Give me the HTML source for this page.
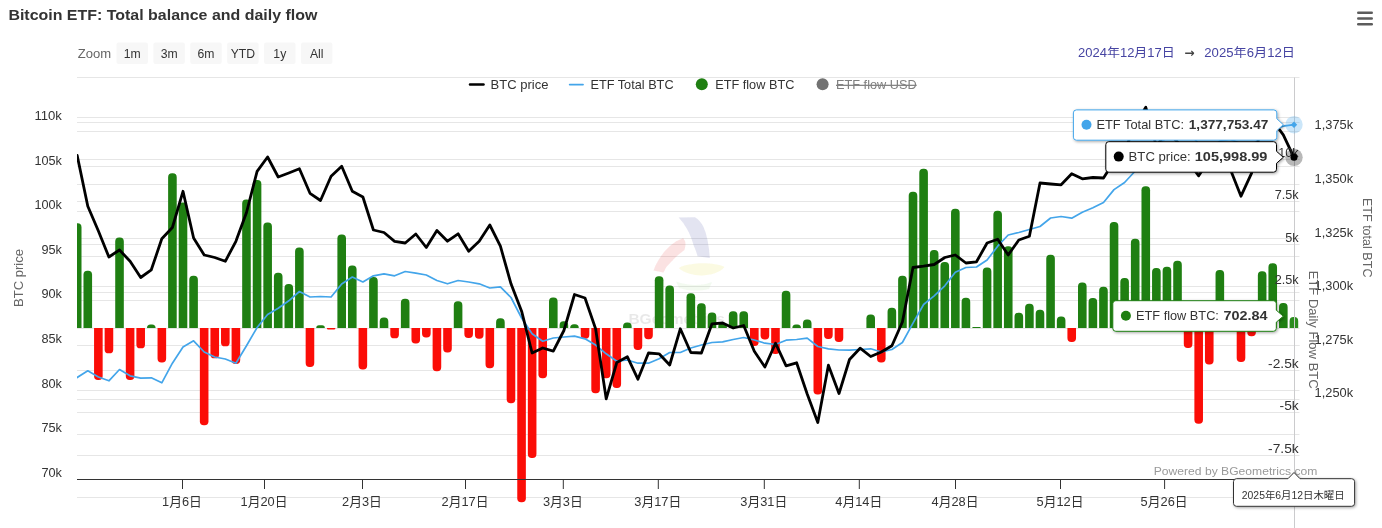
<!DOCTYPE html>
<html lang="ja"><head><meta charset="utf-8"><title>Bitcoin ETF: Total balance and daily flow</title>
<style>html,body{margin:0;padding:0;background:#fff;overflow:hidden}svg{display:block}text{font-family:"Liberation Sans","Noto Sans CJK JP",sans-serif}</style></head><body>
<svg width="1382" height="528" viewBox="0 0 1382 528">
<defs><clipPath id="plot"><rect x="77" y="70" width="1225" height="458"/></clipPath><filter id="sh" x="-10%" y="-30%" width="120%" height="170%"><feDropShadow dx="1" dy="1" stdDeviation="1.8" flood-color="#000" flood-opacity="0.35"/></filter><filter id="bl" x="-10%" y="-10%" width="120%" height="120%"><feGaussianBlur stdDeviation="0.7"/></filter></defs>
<rect width="1382" height="528" fill="#fff"/>
<g>
<path d="M77 77.5H1299.5" stroke="#e6e6e6" stroke-width="1" fill="none"/>
<path d="M77 117.5H1299.5" stroke="#e6e6e6" stroke-width="1" fill="none"/>
<path d="M77 159.5H1299.5" stroke="#e6e6e6" stroke-width="1" fill="none"/>
<path d="M77 201.5H1299.5" stroke="#e6e6e6" stroke-width="1" fill="none"/>
<path d="M77 244.5H1299.5" stroke="#e6e6e6" stroke-width="1" fill="none"/>
<path d="M77 286.5H1299.5" stroke="#e6e6e6" stroke-width="1" fill="none"/>
<path d="M77 328.5H1299.5" stroke="#e6e6e6" stroke-width="1" fill="none"/>
<path d="M77 370.5H1299.5" stroke="#e6e6e6" stroke-width="1" fill="none"/>
<path d="M77 412.5H1299.5" stroke="#e6e6e6" stroke-width="1" fill="none"/>
<path d="M77 455.5H1299.5" stroke="#e6e6e6" stroke-width="1" fill="none"/>
<path d="M77 497.5H1299.5" stroke="#e6e6e6" stroke-width="1" fill="none"/>
<path d="M77 122.5H1299.5" stroke="#e6e6e6" stroke-width="1" fill="none"/>
<path d="M77 166.5H1299.5" stroke="#e6e6e6" stroke-width="1" fill="none"/>
<path d="M77 211.5H1299.5" stroke="#e6e6e6" stroke-width="1" fill="none"/>
<path d="M77 256.5H1299.5" stroke="#e6e6e6" stroke-width="1" fill="none"/>
<path d="M77 300.5H1299.5" stroke="#e6e6e6" stroke-width="1" fill="none"/>
<path d="M77 345.5H1299.5" stroke="#e6e6e6" stroke-width="1" fill="none"/>
<path d="M77 390.5H1299.5" stroke="#e6e6e6" stroke-width="1" fill="none"/>
<path d="M77 434.5H1299.5" stroke="#e6e6e6" stroke-width="1" fill="none"/>
<path d="M77 131.5H1299.5" stroke="#e6e6e6" stroke-width="1" fill="none"/>
<path d="M77 184.5H1299.5" stroke="#e6e6e6" stroke-width="1" fill="none"/>
<path d="M77 238.5H1299.5" stroke="#e6e6e6" stroke-width="1" fill="none"/>
<path d="M77 292.5H1299.5" stroke="#e6e6e6" stroke-width="1" fill="none"/>
<path d="M77 345.5H1299.5" stroke="#e6e6e6" stroke-width="1" fill="none"/>
<path d="M77 399.5H1299.5" stroke="#e6e6e6" stroke-width="1" fill="none"/>
</g>
<g filter="url(#bl)"><path d="M678.7 217.6 L694.9 217.2 Q700.5 220.5 703.5 227 Q708.5 238 709.8 258 L697.6 256.3 Q695.5 249 694 246.4 Q691 236 687 229 Q683 222 678.7 217.6Z" fill="#5a5cae" opacity="0.17"/><path d="M683.2 238.3 Q676 240.5 671 245 Q663 252 658.5 260 Q655 266 653.5 270.6 L663.4 272.4 Q666 266.5 670.6 262.6 Q676 256 684.5 250 Q686 245 685 241Z" fill="#e43c3c" opacity="0.14"/><path d="M678.7 268 C690 262 714 262 724.5 267 C716 277.5 690 278.5 678.7 268Z" fill="#e2dc3c" opacity="0.14"/><path d="M676 281.5 C688 286 702 286 712 282 L709 289 C699 291.5 688 291 679 288Z" fill="#6cc050" opacity="0.08"/></g>
<text x="628.4" y="324" font-size="15.5" font-weight="bold" fill="#000" opacity="0.085">BGeometrics</text>
<g clip-path="url(#plot)">
<path d="M72.90 328V227.20A3.90 3.90 0 0 1 76.80 223.30H77.60A3.90 3.90 0 0 1 81.50 227.20V328Z" fill="#1f7f12"/>
<path d="M83.48 328V274.65A3.90 3.90 0 0 1 87.38 270.75H88.18A3.90 3.90 0 0 1 92.08 274.65V328Z" fill="#1f7f12"/>
<path d="M94.06 328V376.10A3.90 3.90 0 0 0 97.96 380.00H98.76A3.90 3.90 0 0 0 102.66 376.10V328Z" fill="#fb0d07"/>
<path d="M104.64 328V349.40A3.90 3.90 0 0 0 108.54 353.30H109.34A3.90 3.90 0 0 0 113.24 349.40V328Z" fill="#fb0d07"/>
<path d="M115.22 328V241.40A3.90 3.90 0 0 1 119.12 237.50H119.92A3.90 3.90 0 0 1 123.82 241.40V328Z" fill="#1f7f12"/>
<path d="M125.80 328V376.10A3.90 3.90 0 0 0 129.70 380.00H130.50A3.90 3.90 0 0 0 134.40 376.10V328Z" fill="#fb0d07"/>
<path d="M136.38 328V344.40A3.90 3.90 0 0 0 140.28 348.30H141.08A3.90 3.90 0 0 0 144.98 344.40V328Z" fill="#fb0d07"/>
<path d="M146.96 328V328.00A3.50 3.50 0 0 1 150.46 324.50H152.06A3.50 3.50 0 0 1 155.56 328.00V328Z" fill="#1f7f12"/>
<path d="M157.54 328V358.60A3.90 3.90 0 0 0 161.44 362.50H162.24A3.90 3.90 0 0 0 166.14 358.60V328Z" fill="#fb0d07"/>
<path d="M168.12 328V177.20A3.90 3.90 0 0 1 172.02 173.30H172.82A3.90 3.90 0 0 1 176.72 177.20V328Z" fill="#1f7f12"/>
<path d="M178.70 328V206.40A3.90 3.90 0 0 1 182.60 202.50H183.40A3.90 3.90 0 0 1 187.30 206.40V328Z" fill="#1f7f12"/>
<path d="M189.28 328V279.70A3.90 3.90 0 0 1 193.18 275.80H193.98A3.90 3.90 0 0 1 197.88 279.70V328Z" fill="#1f7f12"/>
<path d="M199.86 328V421.35A3.90 3.90 0 0 0 203.76 425.25H204.56A3.90 3.90 0 0 0 208.46 421.35V328Z" fill="#fb0d07"/>
<path d="M210.44 328V354.40A3.90 3.90 0 0 0 214.34 358.30H215.14A3.90 3.90 0 0 0 219.04 354.40V328Z" fill="#fb0d07"/>
<path d="M221.02 328V342.40A3.90 3.90 0 0 0 224.92 346.30H225.72A3.90 3.90 0 0 0 229.62 342.40V328Z" fill="#fb0d07"/>
<path d="M231.60 328V360.10A3.90 3.90 0 0 0 235.50 364.00H236.30A3.90 3.90 0 0 0 240.20 360.10V328Z" fill="#fb0d07"/>
<path d="M242.18 328V203.40A3.90 3.90 0 0 1 246.08 199.50H246.88A3.90 3.90 0 0 1 250.78 203.40V328Z" fill="#1f7f12"/>
<path d="M252.76 328V183.90A3.90 3.90 0 0 1 256.66 180.00H257.46A3.90 3.90 0 0 1 261.36 183.90V328Z" fill="#1f7f12"/>
<path d="M263.34 328V226.40A3.90 3.90 0 0 1 267.24 222.50H268.04A3.90 3.90 0 0 1 271.94 226.40V328Z" fill="#1f7f12"/>
<path d="M273.92 328V276.65A3.90 3.90 0 0 1 277.82 272.75H278.62A3.90 3.90 0 0 1 282.52 276.65V328Z" fill="#1f7f12"/>
<path d="M284.50 328V287.90A3.90 3.90 0 0 1 288.40 284.00H289.20A3.90 3.90 0 0 1 293.10 287.90V328Z" fill="#1f7f12"/>
<path d="M295.08 328V251.40A3.90 3.90 0 0 1 298.98 247.50H299.78A3.90 3.90 0 0 1 303.68 251.40V328Z" fill="#1f7f12"/>
<path d="M305.66 328V363.10A3.90 3.90 0 0 0 309.56 367.00H310.36A3.90 3.90 0 0 0 314.26 363.10V328Z" fill="#fb0d07"/>
<path d="M316.24 328V328.00A2.70 2.70 0 0 1 318.94 325.30H322.14A2.70 2.70 0 0 1 324.84 328.00V328Z" fill="#1f7f12"/>
<path d="M326.82 328V328.00A1.50 1.50 0 0 0 328.32 329.50H333.92A1.50 1.50 0 0 0 335.42 328.00V328Z" fill="#fb0d07"/>
<path d="M337.40 328V238.40A3.90 3.90 0 0 1 341.30 234.50H342.10A3.90 3.90 0 0 1 346.00 238.40V328Z" fill="#1f7f12"/>
<path d="M347.98 328V269.50A3.90 3.90 0 0 1 351.88 265.60H352.68A3.90 3.90 0 0 1 356.58 269.50V328Z" fill="#1f7f12"/>
<path d="M358.56 328V365.60A3.90 3.90 0 0 0 362.46 369.50H363.26A3.90 3.90 0 0 0 367.16 365.60V328Z" fill="#fb0d07"/>
<path d="M369.14 328V280.90A3.90 3.90 0 0 1 373.04 277.00H373.84A3.90 3.90 0 0 1 377.74 280.90V328Z" fill="#1f7f12"/>
<path d="M379.72 328V321.40A3.90 3.90 0 0 1 383.62 317.50H384.42A3.90 3.90 0 0 1 388.32 321.40V328Z" fill="#1f7f12"/>
<path d="M390.30 328V334.40A3.90 3.90 0 0 0 394.20 338.30H395.00A3.90 3.90 0 0 0 398.90 334.40V328Z" fill="#fb0d07"/>
<path d="M400.88 328V302.65A3.90 3.90 0 0 1 404.78 298.75H405.58A3.90 3.90 0 0 1 409.48 302.65V328Z" fill="#1f7f12"/>
<path d="M411.46 328V339.60A3.90 3.90 0 0 0 415.36 343.50H416.16A3.90 3.90 0 0 0 420.06 339.60V328Z" fill="#fb0d07"/>
<path d="M422.04 328V333.60A3.90 3.90 0 0 0 425.94 337.50H426.74A3.90 3.90 0 0 0 430.64 333.60V328Z" fill="#fb0d07"/>
<path d="M432.62 328V367.35A3.90 3.90 0 0 0 436.52 371.25H437.32A3.90 3.90 0 0 0 441.22 367.35V328Z" fill="#fb0d07"/>
<path d="M443.20 328V348.60A3.90 3.90 0 0 0 447.10 352.50H447.90A3.90 3.90 0 0 0 451.80 348.60V328Z" fill="#fb0d07"/>
<path d="M453.78 328V305.15A3.90 3.90 0 0 1 457.68 301.25H458.48A3.90 3.90 0 0 1 462.38 305.15V328Z" fill="#1f7f12"/>
<path d="M464.36 328V334.10A3.90 3.90 0 0 0 468.26 338.00H469.06A3.90 3.90 0 0 0 472.96 334.10V328Z" fill="#fb0d07"/>
<path d="M474.94 328V334.85A3.90 3.90 0 0 0 478.84 338.75H479.64A3.90 3.90 0 0 0 483.54 334.85V328Z" fill="#fb0d07"/>
<path d="M485.52 328V364.35A3.90 3.90 0 0 0 489.42 368.25H490.22A3.90 3.90 0 0 0 494.12 364.35V328Z" fill="#fb0d07"/>
<path d="M496.10 328V322.15A3.90 3.90 0 0 1 500.00 318.25H500.80A3.90 3.90 0 0 1 504.70 322.15V328Z" fill="#1f7f12"/>
<path d="M506.68 328V399.35A3.90 3.90 0 0 0 510.58 403.25H511.38A3.90 3.90 0 0 0 515.28 399.35V328Z" fill="#fb0d07"/>
<path d="M517.26 328V498.35A3.90 3.90 0 0 0 521.16 502.25H521.96A3.90 3.90 0 0 0 525.86 498.35V328Z" fill="#fb0d07"/>
<path d="M527.84 328V454.10A3.90 3.90 0 0 0 531.74 458.00H532.54A3.90 3.90 0 0 0 536.44 454.10V328Z" fill="#fb0d07"/>
<path d="M538.42 328V374.35A3.90 3.90 0 0 0 542.32 378.25H543.12A3.90 3.90 0 0 0 547.02 374.35V328Z" fill="#fb0d07"/>
<path d="M549.00 328V301.40A3.90 3.90 0 0 1 552.90 297.50H553.70A3.90 3.90 0 0 1 557.60 301.40V328Z" fill="#1f7f12"/>
<path d="M559.58 328V325.15A3.90 3.90 0 0 1 563.48 321.25H564.28A3.90 3.90 0 0 1 568.18 325.15V328Z" fill="#1f7f12"/>
<path d="M570.16 328V328.00A3.75 3.75 0 0 1 573.91 324.25H575.01A3.75 3.75 0 0 1 578.76 328.00V328Z" fill="#1f7f12"/>
<path d="M580.74 328V334.85A3.90 3.90 0 0 0 584.64 338.75H585.44A3.90 3.90 0 0 0 589.34 334.85V328Z" fill="#fb0d07"/>
<path d="M591.32 328V389.35A3.90 3.90 0 0 0 595.22 393.25H596.02A3.90 3.90 0 0 0 599.92 389.35V328Z" fill="#fb0d07"/>
<path d="M601.90 328V374.35A3.90 3.90 0 0 0 605.80 378.25H606.60A3.90 3.90 0 0 0 610.50 374.35V328Z" fill="#fb0d07"/>
<path d="M612.48 328V384.10A3.90 3.90 0 0 0 616.38 388.00H617.18A3.90 3.90 0 0 0 621.08 384.10V328Z" fill="#fb0d07"/>
<path d="M623.06 328V326.40A3.90 3.90 0 0 1 626.96 322.50H627.76A3.90 3.90 0 0 1 631.66 326.40V328Z" fill="#1f7f12"/>
<path d="M633.64 328V346.10A3.90 3.90 0 0 0 637.54 350.00H638.34A3.90 3.90 0 0 0 642.24 346.10V328Z" fill="#fb0d07"/>
<path d="M644.22 328V335.35A3.90 3.90 0 0 0 648.12 339.25H648.92A3.90 3.90 0 0 0 652.82 335.35V328Z" fill="#fb0d07"/>
<path d="M654.80 328V280.15A3.90 3.90 0 0 1 658.70 276.25H659.50A3.90 3.90 0 0 1 663.40 280.15V328Z" fill="#1f7f12"/>
<path d="M665.38 328V289.40A3.90 3.90 0 0 1 669.28 285.50H670.08A3.90 3.90 0 0 1 673.98 289.40V328Z" fill="#1f7f12"/>
<path d="M686.54 328V297.15A3.90 3.90 0 0 1 690.44 293.25H691.24A3.90 3.90 0 0 1 695.14 297.15V328Z" fill="#1f7f12"/>
<path d="M697.12 328V307.15A3.90 3.90 0 0 1 701.02 303.25H701.82A3.90 3.90 0 0 1 705.72 307.15V328Z" fill="#1f7f12"/>
<path d="M707.70 328V316.40A3.90 3.90 0 0 1 711.60 312.50H712.40A3.90 3.90 0 0 1 716.30 316.40V328Z" fill="#1f7f12"/>
<path d="M718.28 328V326.40A3.90 3.90 0 0 1 722.18 322.50H722.98A3.90 3.90 0 0 1 726.88 326.40V328Z" fill="#1f7f12"/>
<path d="M728.86 328V315.15A3.90 3.90 0 0 1 732.76 311.25H733.56A3.90 3.90 0 0 1 737.46 315.15V328Z" fill="#1f7f12"/>
<path d="M739.44 328V315.15A3.90 3.90 0 0 1 743.34 311.25H744.14A3.90 3.90 0 0 1 748.04 315.15V328Z" fill="#1f7f12"/>
<path d="M750.02 328V342.10A3.90 3.90 0 0 0 753.92 346.00H754.72A3.90 3.90 0 0 0 758.62 342.10V328Z" fill="#fb0d07"/>
<path d="M760.60 328V335.60A3.90 3.90 0 0 0 764.50 339.50H765.30A3.90 3.90 0 0 0 769.20 335.60V328Z" fill="#fb0d07"/>
<path d="M771.18 328V350.10A3.90 3.90 0 0 0 775.08 354.00H775.88A3.90 3.90 0 0 0 779.78 350.10V328Z" fill="#fb0d07"/>
<path d="M781.76 328V294.65A3.90 3.90 0 0 1 785.66 290.75H786.46A3.90 3.90 0 0 1 790.36 294.65V328Z" fill="#1f7f12"/>
<path d="M792.34 328V328.00A3.50 3.50 0 0 1 795.84 324.50H797.44A3.50 3.50 0 0 1 800.94 328.00V328Z" fill="#1f7f12"/>
<path d="M802.92 328V323.40A3.90 3.90 0 0 1 806.82 319.50H807.62A3.90 3.90 0 0 1 811.52 323.40V328Z" fill="#1f7f12"/>
<path d="M813.50 328V390.60A3.90 3.90 0 0 0 817.40 394.50H818.20A3.90 3.90 0 0 0 822.10 390.60V328Z" fill="#fb0d07"/>
<path d="M824.08 328V335.10A3.90 3.90 0 0 0 827.98 339.00H828.78A3.90 3.90 0 0 0 832.68 335.10V328Z" fill="#fb0d07"/>
<path d="M834.66 328V338.10A3.90 3.90 0 0 0 838.56 342.00H839.36A3.90 3.90 0 0 0 843.26 338.10V328Z" fill="#fb0d07"/>
<path d="M866.40 328V318.40A3.90 3.90 0 0 1 870.30 314.50H871.10A3.90 3.90 0 0 1 875.00 318.40V328Z" fill="#1f7f12"/>
<path d="M876.98 328V358.60A3.90 3.90 0 0 0 880.88 362.50H881.68A3.90 3.90 0 0 0 885.58 358.60V328Z" fill="#fb0d07"/>
<path d="M887.56 328V311.65A3.90 3.90 0 0 1 891.46 307.75H892.26A3.90 3.90 0 0 1 896.16 311.65V328Z" fill="#1f7f12"/>
<path d="M898.14 328V279.65A3.90 3.90 0 0 1 902.04 275.75H902.84A3.90 3.90 0 0 1 906.74 279.65V328Z" fill="#1f7f12"/>
<path d="M908.72 328V195.65A3.90 3.90 0 0 1 912.62 191.75H913.42A3.90 3.90 0 0 1 917.32 195.65V328Z" fill="#1f7f12"/>
<path d="M919.30 328V172.65A3.90 3.90 0 0 1 923.20 168.75H924.00A3.90 3.90 0 0 1 927.90 172.65V328Z" fill="#1f7f12"/>
<path d="M929.88 328V253.90A3.90 3.90 0 0 1 933.78 250.00H934.58A3.90 3.90 0 0 1 938.48 253.90V328Z" fill="#1f7f12"/>
<path d="M940.46 328V265.90A3.90 3.90 0 0 1 944.36 262.00H945.16A3.90 3.90 0 0 1 949.06 265.90V328Z" fill="#1f7f12"/>
<path d="M951.04 328V212.65A3.90 3.90 0 0 1 954.94 208.75H955.74A3.90 3.90 0 0 1 959.64 212.65V328Z" fill="#1f7f12"/>
<path d="M961.62 328V301.65A3.90 3.90 0 0 1 965.52 297.75H966.32A3.90 3.90 0 0 1 970.22 301.65V328Z" fill="#1f7f12"/>
<path d="M972.20 328V328.00A1.00 1.00 0 0 1 973.20 327.00H979.80A1.00 1.00 0 0 1 980.80 328.00V328Z" fill="#1f7f12"/>
<path d="M982.78 328V271.40A3.90 3.90 0 0 1 986.68 267.50H987.48A3.90 3.90 0 0 1 991.38 271.40V328Z" fill="#1f7f12"/>
<path d="M993.36 328V214.65A3.90 3.90 0 0 1 997.26 210.75H998.06A3.90 3.90 0 0 1 1001.96 214.65V328Z" fill="#1f7f12"/>
<path d="M1003.94 328V250.15A3.90 3.90 0 0 1 1007.84 246.25H1008.64A3.90 3.90 0 0 1 1012.54 250.15V328Z" fill="#1f7f12"/>
<path d="M1014.52 328V316.65A3.90 3.90 0 0 1 1018.42 312.75H1019.22A3.90 3.90 0 0 1 1023.12 316.65V328Z" fill="#1f7f12"/>
<path d="M1025.10 328V307.65A3.90 3.90 0 0 1 1029.00 303.75H1029.80A3.90 3.90 0 0 1 1033.70 307.65V328Z" fill="#1f7f12"/>
<path d="M1035.68 328V313.65A3.90 3.90 0 0 1 1039.58 309.75H1040.38A3.90 3.90 0 0 1 1044.28 313.65V328Z" fill="#1f7f12"/>
<path d="M1046.26 328V258.65A3.90 3.90 0 0 1 1050.16 254.75H1050.96A3.90 3.90 0 0 1 1054.86 258.65V328Z" fill="#1f7f12"/>
<path d="M1056.84 328V320.50A3.90 3.90 0 0 1 1060.74 316.60H1061.54A3.90 3.90 0 0 1 1065.44 320.50V328Z" fill="#1f7f12"/>
<path d="M1067.42 328V338.10A3.90 3.90 0 0 0 1071.32 342.00H1072.12A3.90 3.90 0 0 0 1076.02 338.10V328Z" fill="#fb0d07"/>
<path d="M1078.00 328V286.40A3.90 3.90 0 0 1 1081.90 282.50H1082.70A3.90 3.90 0 0 1 1086.60 286.40V328Z" fill="#1f7f12"/>
<path d="M1088.58 328V301.90A3.90 3.90 0 0 1 1092.48 298.00H1093.28A3.90 3.90 0 0 1 1097.18 301.90V328Z" fill="#1f7f12"/>
<path d="M1099.16 328V290.65A3.90 3.90 0 0 1 1103.06 286.75H1103.86A3.90 3.90 0 0 1 1107.76 290.65V328Z" fill="#1f7f12"/>
<path d="M1109.74 328V225.90A3.90 3.90 0 0 1 1113.64 222.00H1114.44A3.90 3.90 0 0 1 1118.34 225.90V328Z" fill="#1f7f12"/>
<path d="M1120.32 328V281.90A3.90 3.90 0 0 1 1124.22 278.00H1125.02A3.90 3.90 0 0 1 1128.92 281.90V328Z" fill="#1f7f12"/>
<path d="M1130.90 328V242.65A3.90 3.90 0 0 1 1134.80 238.75H1135.60A3.90 3.90 0 0 1 1139.50 242.65V328Z" fill="#1f7f12"/>
<path d="M1141.48 328V190.15A3.90 3.90 0 0 1 1145.38 186.25H1146.18A3.90 3.90 0 0 1 1150.08 190.15V328Z" fill="#1f7f12"/>
<path d="M1152.06 328V271.90A3.90 3.90 0 0 1 1155.96 268.00H1156.76A3.90 3.90 0 0 1 1160.66 271.90V328Z" fill="#1f7f12"/>
<path d="M1162.64 328V270.65A3.90 3.90 0 0 1 1166.54 266.75H1167.34A3.90 3.90 0 0 1 1171.24 270.65V328Z" fill="#1f7f12"/>
<path d="M1173.22 328V264.65A3.90 3.90 0 0 1 1177.12 260.75H1177.92A3.90 3.90 0 0 1 1181.82 264.65V328Z" fill="#1f7f12"/>
<path d="M1183.80 328V344.10A3.90 3.90 0 0 0 1187.70 348.00H1188.50A3.90 3.90 0 0 0 1192.40 344.10V328Z" fill="#fb0d07"/>
<path d="M1194.38 328V419.85A3.90 3.90 0 0 0 1198.28 423.75H1199.08A3.90 3.90 0 0 0 1202.98 419.85V328Z" fill="#fb0d07"/>
<path d="M1204.96 328V360.60A3.90 3.90 0 0 0 1208.86 364.50H1209.66A3.90 3.90 0 0 0 1213.56 360.60V328Z" fill="#fb0d07"/>
<path d="M1215.54 328V273.90A3.90 3.90 0 0 1 1219.44 270.00H1220.24A3.90 3.90 0 0 1 1224.14 273.90V328Z" fill="#1f7f12"/>
<path d="M1226.12 328V317.90A3.90 3.90 0 0 1 1230.02 314.00H1230.82A3.90 3.90 0 0 1 1234.72 317.90V328Z" fill="#1f7f12"/>
<path d="M1236.70 328V358.10A3.90 3.90 0 0 0 1240.60 362.00H1241.40A3.90 3.90 0 0 0 1245.30 358.10V328Z" fill="#fb0d07"/>
<path d="M1247.28 328V332.35A3.90 3.90 0 0 0 1251.18 336.25H1251.98A3.90 3.90 0 0 0 1255.88 332.35V328Z" fill="#fb0d07"/>
<path d="M1257.86 328V275.15A3.90 3.90 0 0 1 1261.76 271.25H1262.56A3.90 3.90 0 0 1 1266.46 275.15V328Z" fill="#1f7f12"/>
<path d="M1268.44 328V267.15A3.90 3.90 0 0 1 1272.34 263.25H1273.14A3.90 3.90 0 0 1 1277.04 267.15V328Z" fill="#1f7f12"/>
<path d="M1279.02 328V306.90A3.90 3.90 0 0 1 1282.92 303.00H1283.72A3.90 3.90 0 0 1 1287.62 306.90V328Z" fill="#1f7f12"/>
<path d="M1289.60 328V320.90A3.90 3.90 0 0 1 1293.50 317.00H1294.30A3.90 3.90 0 0 1 1298.20 320.90V328Z" fill="#2b8c1e"/>
<path d="M77.2 377.5 L87.8 370.8 L98.4 377.0 L108.9 380.8 L119.5 369.5 L130.1 375.8 L140.7 378.2 L151.3 377.8 L161.8 382.8 L172.4 363.2 L183.0 347.0 L193.6 340.8 L204.2 352.0 L214.7 357.0 L225.3 359.0 L235.9 363.2 L246.5 345.8 L257.1 327.5 L267.6 314.5 L278.2 308.2 L288.8 300.8 L299.4 291.5 L310.0 297.0 L320.5 296.5 L331.1 297.0 L341.7 284.0 L352.3 277.0 L362.9 282.0 L373.4 275.8 L384.0 273.8 L394.6 275.8 L405.2 271.5 L415.8 273.2 L426.3 275.0 L436.9 280.5 L447.5 283.8 L458.1 280.5 L468.7 282.0 L479.2 283.8 L489.8 288.0 L500.4 286.8 L511.0 297.5 L521.6 318.0 L532.1 333.8 L542.7 341.2 L553.3 338.0 L563.9 337.0 L574.5 336.2 L585.0 338.8 L595.6 345.0 L606.2 353.8 L616.8 361.2 L627.4 360.0 L637.9 363.2 L648.5 363.2 L659.1 358.8 L669.7 352.5 L680.3 352.5 L690.8 348.0 L701.4 345.0 L712.0 342.5 L722.6 341.8 L733.2 339.5 L743.7 337.5 L754.3 340.0 L764.9 343.2 L775.5 344.5 L786.1 340.2 L796.6 339.5 L807.2 338.2 L817.8 346.5 L828.4 348.8 L839.0 350.0 L849.5 350.2 L860.1 349.5 L870.7 348.8 L881.3 352.0 L891.9 349.5 L902.4 342.5 L913.0 323.2 L923.6 304.5 L934.2 295.8 L944.8 285.8 L955.3 272.2 L965.9 267.5 L976.5 267.0 L987.1 260.0 L997.7 246.2 L1008.2 235.0 L1018.8 232.5 L1029.4 229.5 L1040.0 226.5 L1050.6 218.0 L1061.1 216.5 L1071.7 218.2 L1082.3 212.2 L1092.9 207.8 L1103.5 202.5 L1114.0 189.6 L1124.6 182.5 L1135.2 171.0 L1145.8 153.1 L1156.4 145.5 L1166.9 137.7 L1177.5 129.2 L1188.1 131.7 L1198.7 143.8 L1209.3 148.5 L1219.8 141.1 L1230.4 139.4 L1241.0 143.7 L1251.6 144.7 L1262.2 137.6 L1272.7 129.4 L1283.3 126.2 L1293.9 124.7" fill="none" stroke="#43a5ea" stroke-width="1.7" stroke-linejoin="round" stroke-linecap="round"/>
<path d="M77.2 155.5 L87.8 206.3 L98.4 231.0 L108.9 257.0 L119.5 250.0 L130.1 261.3 L140.7 277.5 L151.3 269.8 L161.8 238.8 L172.4 227.5 L183.0 191.3 L193.6 238.0 L204.2 255.0 L214.7 257.5 L225.3 261.3 L235.9 241.3 L246.5 212.5 L257.1 171.3 L267.6 157.0 L278.2 177.0 L288.8 173.0 L299.4 168.8 L310.0 193.3 L320.5 200.5 L331.1 176.3 L341.7 166.3 L352.3 191.3 L362.9 197.0 L373.4 230.0 L384.0 232.5 L394.6 241.3 L405.2 243.0 L415.8 234.0 L426.3 247.5 L436.9 230.5 L447.5 241.2 L458.1 233.8 L468.7 251.2 L479.2 241.2 L489.8 225.0 L500.4 246.2 L511.0 283.8 L521.6 311.2 L532.1 353.0 L542.7 348.0 L553.3 351.2 L563.9 330.5 L574.5 294.5 L585.0 298.0 L595.6 328.8 L606.2 398.8 L616.8 362.5 L627.4 356.8 L637.9 379.2 L648.5 353.0 L659.1 353.8 L669.7 365.0 L680.3 328.8 L690.8 352.5 L701.4 353.0 L712.0 323.8 L722.6 323.0 L733.2 328.0 L743.7 325.5 L754.3 351.2 L764.9 367.0 L775.5 343.2 L786.1 365.8 L796.6 362.8 L807.2 394.0 L817.8 422.5 L828.4 365.2 L839.0 393.5 L849.5 359.5 L860.1 348.2 L870.7 356.5 L881.3 352.0 L891.9 345.8 L902.4 322.0 L913.0 267.5 L923.6 266.2 L934.2 264.5 L944.8 257.5 L955.3 255.0 L965.9 263.0 L976.5 261.8 L987.1 243.0 L997.7 239.2 L1008.2 255.0 L1018.8 240.0 L1029.4 236.2 L1040.0 183.0 L1050.6 184.0 L1061.1 184.8 L1071.7 173.8 L1082.3 178.8 L1092.9 177.5 L1103.5 178.0 L1114.0 161.5 L1124.6 150.8 L1135.2 125.0 L1145.8 107.3 L1156.4 146.4 L1166.9 131.2 L1177.5 141.9 L1188.1 161.5 L1198.7 175.8 L1209.3 159.8 L1219.8 163.3 L1230.4 169.6 L1241.0 196.2 L1251.6 173.1 L1262.2 120.5 L1272.7 120.5 L1283.3 134.8 L1293.9 157.3" fill="none" stroke="#000" stroke-width="2.8" stroke-linejoin="round" stroke-linecap="round"/>
</g>
<path d="M77 479.5H1299.5" stroke="#333" stroke-width="1" fill="none"/>
<path d="M182.5 479.5V489" stroke="#333" stroke-width="1"/>
<text x="182.0" y="506" font-size="12.8" fill="#333" text-anchor="middle">1月6日</text>
<path d="M264.5 479.5V489" stroke="#333" stroke-width="1"/>
<text x="264.0" y="506" font-size="12.8" fill="#333" text-anchor="middle">1月20日</text>
<path d="M362.5 479.5V489" stroke="#333" stroke-width="1"/>
<text x="362.0" y="506" font-size="12.8" fill="#333" text-anchor="middle">2月3日</text>
<path d="M465.5 479.5V489" stroke="#333" stroke-width="1"/>
<text x="465.0" y="506" font-size="12.8" fill="#333" text-anchor="middle">2月17日</text>
<path d="M563.3 479.5V489" stroke="#333" stroke-width="1"/>
<text x="562.8" y="506" font-size="12.8" fill="#333" text-anchor="middle">3月3日</text>
<path d="M658.3 479.5V489" stroke="#333" stroke-width="1"/>
<text x="657.8" y="506" font-size="12.8" fill="#333" text-anchor="middle">3月17日</text>
<path d="M764.3 479.5V489" stroke="#333" stroke-width="1"/>
<text x="763.8" y="506" font-size="12.8" fill="#333" text-anchor="middle">3月31日</text>
<path d="M859.3 479.5V489" stroke="#333" stroke-width="1"/>
<text x="858.8" y="506" font-size="12.8" fill="#333" text-anchor="middle">4月14日</text>
<path d="M955.5 479.5V489" stroke="#333" stroke-width="1"/>
<text x="955.0" y="506" font-size="12.8" fill="#333" text-anchor="middle">4月28日</text>
<path d="M1060.5 479.5V489" stroke="#333" stroke-width="1"/>
<text x="1060.0" y="506" font-size="12.8" fill="#333" text-anchor="middle">5月12日</text>
<path d="M1164.6 479.5V489" stroke="#333" stroke-width="1"/>
<text x="1164.1" y="506" font-size="12.8" fill="#333" text-anchor="middle">5月26日</text>
<path d="M1294.5 77.5V528" stroke="#cbcbcd" stroke-width="1"/>
<text x="61.9" y="120.0" font-size="12.2" fill="#333" text-anchor="end" textLength="27.5" lengthAdjust="spacingAndGlyphs" >110k</text>
<text x="61.9" y="164.6" font-size="12.2" fill="#333" text-anchor="end" textLength="27.5" lengthAdjust="spacingAndGlyphs" >105k</text>
<text x="61.9" y="209.2" font-size="12.2" fill="#333" text-anchor="end" textLength="27.5" lengthAdjust="spacingAndGlyphs" >100k</text>
<text x="61.9" y="253.8" font-size="12.2" fill="#333" text-anchor="end" textLength="20.5" lengthAdjust="spacingAndGlyphs" >95k</text>
<text x="61.9" y="298.4" font-size="12.2" fill="#333" text-anchor="end" textLength="20.5" lengthAdjust="spacingAndGlyphs" >90k</text>
<text x="61.9" y="343.0" font-size="12.2" fill="#333" text-anchor="end" textLength="20.5" lengthAdjust="spacingAndGlyphs" >85k</text>
<text x="61.9" y="387.6" font-size="12.2" fill="#333" text-anchor="end" textLength="20.5" lengthAdjust="spacingAndGlyphs" >80k</text>
<text x="61.9" y="432.2" font-size="12.2" fill="#333" text-anchor="end" textLength="20.5" lengthAdjust="spacingAndGlyphs" >75k</text>
<text x="61.9" y="476.8" font-size="12.2" fill="#333" text-anchor="end" textLength="20.5" lengthAdjust="spacingAndGlyphs" >70k</text>
<text x="1298.7" y="157.2" font-size="12.4" fill="#333" text-anchor="end" textLength="20.4" lengthAdjust="spacingAndGlyphs" >10k</text>
<text x="1298.7" y="199.4" font-size="12.4" fill="#333" text-anchor="end" textLength="23.9" lengthAdjust="spacingAndGlyphs" >7.5k</text>
<text x="1298.7" y="241.6" font-size="12.4" fill="#333" text-anchor="end" textLength="13.4" lengthAdjust="spacingAndGlyphs" >5k</text>
<text x="1298.7" y="283.8" font-size="12.4" fill="#333" text-anchor="end" textLength="23.9" lengthAdjust="spacingAndGlyphs" >2.5k</text>
<text x="1298.7" y="368.2" font-size="12.4" fill="#333" text-anchor="end" textLength="30.6" lengthAdjust="spacingAndGlyphs" >-2.5k</text>
<text x="1298.7" y="410.4" font-size="12.4" fill="#333" text-anchor="end" textLength="19.1" lengthAdjust="spacingAndGlyphs" >-5k</text>
<text x="1298.7" y="452.6" font-size="12.4" fill="#333" text-anchor="end" textLength="30.6" lengthAdjust="spacingAndGlyphs" >-7.5k</text>
<text x="1298.7" y="494.8" font-size="12.4" fill="#333" text-anchor="end" textLength="26.8" lengthAdjust="spacingAndGlyphs" >-10k</text>
<text x="1314.6" y="129.3" font-size="12.2" fill="#333" textLength="38.5" lengthAdjust="spacingAndGlyphs" >1,375k</text>
<text x="1314.6" y="182.9" font-size="12.2" fill="#333" textLength="38.5" lengthAdjust="spacingAndGlyphs" >1,350k</text>
<text x="1314.6" y="236.5" font-size="12.2" fill="#333" textLength="38.5" lengthAdjust="spacingAndGlyphs" >1,325k</text>
<text x="1314.6" y="290.1" font-size="12.2" fill="#333" textLength="38.5" lengthAdjust="spacingAndGlyphs" >1,300k</text>
<text x="1314.6" y="343.7" font-size="12.2" fill="#333" textLength="38.5" lengthAdjust="spacingAndGlyphs" >1,275k</text>
<text x="1314.6" y="397.3" font-size="12.2" fill="#333" textLength="38.5" lengthAdjust="spacingAndGlyphs" >1,250k</text>
<text transform="translate(22.5 278) rotate(-90)" font-size="12.4" fill="#666" text-anchor="middle" textLength="58" lengthAdjust="spacingAndGlyphs">BTC price</text>
<text transform="translate(1309 329.7) rotate(90)" font-size="12.4" fill="#666" text-anchor="middle" textLength="118" lengthAdjust="spacingAndGlyphs">ETF Daily Flow BTC</text>
<text transform="translate(1362.8 237.7) rotate(90)" font-size="12.4" fill="#666" text-anchor="middle" textLength="79.5" lengthAdjust="spacingAndGlyphs">ETF total BTC</text>
<text x="8.4" y="19.9" font-size="15.4" fill="#333" textLength="309" lengthAdjust="spacingAndGlyphs" font-weight="bold">Bitcoin ETF: Total balance and daily flow</text>
<text x="77.7" y="58" font-size="12.4" fill="#666" textLength="33.4" lengthAdjust="spacingAndGlyphs" >Zoom</text>
<rect x="116.5" y="42.5" width="31.4" height="21.4" rx="2" fill="#f7f7f7"/>
<text x="132.2" y="58" font-size="12.2" fill="#333" text-anchor="middle" >1m</text>
<rect x="153.4" y="42.5" width="31.4" height="21.4" rx="2" fill="#f7f7f7"/>
<text x="169.1" y="58" font-size="12.2" fill="#333" text-anchor="middle" >3m</text>
<rect x="190.3" y="42.5" width="31.4" height="21.4" rx="2" fill="#f7f7f7"/>
<text x="206.0" y="58" font-size="12.2" fill="#333" text-anchor="middle" >6m</text>
<rect x="227.2" y="42.5" width="31.4" height="21.4" rx="2" fill="#f7f7f7"/>
<text x="242.9" y="58" font-size="12.2" fill="#333" text-anchor="middle" >YTD</text>
<rect x="264.1" y="42.5" width="31.4" height="21.4" rx="2" fill="#f7f7f7"/>
<text x="279.8" y="58" font-size="12.2" fill="#333" text-anchor="middle" >1y</text>
<rect x="301.0" y="42.5" width="31.4" height="21.4" rx="2" fill="#f7f7f7"/>
<text x="316.7" y="58" font-size="12.2" fill="#333" text-anchor="middle" >All</text>
<text x="1078" y="56.5" font-size="12.3" fill="#4644a2" textLength="96.8" lengthAdjust="spacingAndGlyphs" >2024年12月17日</text>
<text x="1184.3" y="56.5" font-size="12.2" fill="#444" style="font-family:DejaVu Sans,sans-serif;font-weight:bold">→</text>
<text x="1204.3" y="56.5" font-size="12.3" fill="#4644a2" textLength="90.6" lengthAdjust="spacingAndGlyphs" >2025年6月12日</text>
<path d="M1358.3 12.8H1371.7" stroke="#5c5c5c" stroke-width="2.6" stroke-linecap="round"/>
<path d="M1358.3 18.5H1371.7" stroke="#5c5c5c" stroke-width="2.6" stroke-linecap="round"/>
<path d="M1358.3 24.2H1371.7" stroke="#5c5c5c" stroke-width="2.6" stroke-linecap="round"/>
<path d="M470 84.6H483.5" stroke="#000" stroke-width="2.5" stroke-linecap="round"/>
<text x="490.5" y="89" font-size="12.4" fill="#333" textLength="57.9" lengthAdjust="spacingAndGlyphs" >BTC price</text>
<path d="M569.7 84.6H583" stroke="#43a5ea" stroke-width="1.8" stroke-linecap="round"/>
<text x="590.4" y="89" font-size="12.4" fill="#333" textLength="83.2" lengthAdjust="spacingAndGlyphs" >ETF Total BTC</text>
<circle cx="701.8" cy="84.2" r="6" fill="#1f7f12"/>
<text x="715.2" y="89" font-size="12.4" fill="#333" textLength="79.2" lengthAdjust="spacingAndGlyphs" >ETF flow BTC</text>
<circle cx="822.6" cy="84.2" r="6" fill="#727272"/>
<text x="836" y="89" font-size="12.4" fill="#808080" textLength="80.7" lengthAdjust="spacingAndGlyphs" text-decoration="line-through">ETF flow USD</text>
<text x="1153.7" y="475" font-size="11.8" fill="#999" textLength="163.7" lengthAdjust="spacingAndGlyphs" >Powered by BGeometrics.com</text>
<circle cx="1294" cy="124.7" r="8.7" fill="#43a5ea" fill-opacity="0.28"/>
<path d="M1294 121.5L1297.2 124.7L1294 127.9L1290.8 124.7Z" fill="#43a5ea"/>
<circle cx="1294" cy="157.3" r="8.7" fill="#000" fill-opacity="0.28"/>
<circle cx="1294" cy="157.3" r="3.5" fill="#000"/>
<path d="M1076.4 109.9H1273.8Q1276.8 109.9 1276.8 112.9V118.7L1283.3 124.7L1276.8 130.7V137.2Q1276.8 140.2 1273.8 140.2H1076.4Q1073.4 140.2 1073.4 137.2V112.9Q1073.4 109.9 1076.4 109.9Z" fill="#fff" stroke="#43a5ea" stroke-width="1" filter="url(#sh)"/>
<circle cx="1086.5" cy="124.8" r="5" fill="#43a5ea"/>
<text x="1096.4" y="129.3" font-size="12.4" fill="#333" textLength="87.6" lengthAdjust="spacingAndGlyphs" >ETF Total BTC:</text>
<text x="1188.8" y="129.3" font-size="12.4" fill="#333" textLength="79.5" lengthAdjust="spacingAndGlyphs" font-weight="bold">1,377,753.47</text>
<path d="M1108.8 141.7H1273.5Q1276.5 141.7 1276.5 144.7V151.3L1283.3 157.3L1276.5 163.3V169.2Q1276.5 172.2 1273.5 172.2H1108.8Q1105.8 172.2 1105.8 169.2V144.7Q1105.8 141.7 1108.8 141.7Z" fill="#fff" stroke="#000" stroke-width="1" filter="url(#sh)"/>
<circle cx="1118.7" cy="156.6" r="5" fill="#000"/>
<text x="1128.6" y="161.2" font-size="12.4" fill="#333" textLength="62.1" lengthAdjust="spacingAndGlyphs" >BTC price:</text>
<text x="1194.8" y="161.2" font-size="12.4" fill="#333" textLength="72.6" lengthAdjust="spacingAndGlyphs" font-weight="bold">105,998.99</text>
<path d="M1115.8 300.7H1273.3Q1276.3 300.7 1276.3 303.7V310.2L1283.3 316.2L1276.3 322.2V328.3Q1276.3 331.3 1273.3 331.3H1115.8Q1112.8 331.3 1112.8 328.3V303.7Q1112.8 300.7 1115.8 300.7Z" fill="#fff" stroke="#1f7f12" stroke-width="1" filter="url(#sh)"/>
<circle cx="1125.9" cy="315.7" r="5" fill="#1f7f12"/>
<text x="1136" y="320.3" font-size="12.4" fill="#333" textLength="82.9" lengthAdjust="spacingAndGlyphs" >ETF flow BTC:</text>
<text x="1223.5" y="320.3" font-size="12.4" fill="#333" textLength="44" lengthAdjust="spacingAndGlyphs" font-weight="bold">702.84</text>
<path d="M1236.5 478.7H1288L1294 472.5L1300 478.7H1351.6Q1354.6 478.7 1354.6 481.7V503.3Q1354.6 506.3 1351.6 506.3H1236.5Q1233.5 506.3 1233.5 503.3V481.7Q1233.5 478.7 1236.5 478.7Z" fill="#fff" stroke="#333" stroke-width="1" filter="url(#sh)"/>
<text x="1293.2" y="498.5" font-size="10.4" fill="#333" text-anchor="middle">2025年6月12日木曜日</text>
</svg></body></html>
